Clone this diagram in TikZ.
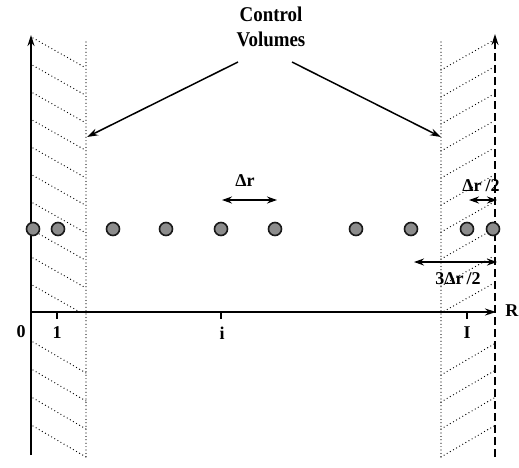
\documentclass[tikz,border=0pt]{standalone}
\usepackage{fontspec}
\setmainfont{Liberation Serif}
\usetikzlibrary{arrows.meta}
\begin{document}
\begin{tikzpicture}[x=1pt,y=-1pt,
  lbl/.style={font=\fontsize{18}{20}\selectfont\bfseries, inner sep=0pt},
  particle/.style={circle, minimum size=13pt, inner sep=0pt, fill=black!45, draw=black!90, line width=1.6pt},
  hatch/.style={line width=1.3pt, line cap=round, dash pattern=on 0pt off 3.6pt},
  bound/.style={line width=1.2pt, line cap=round, dash pattern=on 0pt off 3.4pt},
  tip/.style={-{Stealth[length=11pt,width=7pt]}},
  dtip/.style={{Stealth[length=10pt,width=7pt]}-{Stealth[length=10pt,width=7pt]}},
  axisline/.style={line width=1.6pt}]
\useasboundingbox (0,0) rectangle (519,467);
% boundary coordinates
\coordinate (Lb) at (31,455); \coordinate (Lt) at (31,35);
\coordinate (Rb) at (495,457); \coordinate (Rt) at (495,34);
\coordinate (O) at (31,312); \coordinate (Rend) at (496,312);
% hatching, left
\begin{scope}
\clip (31,36) rectangle (87,312);
\foreach \y in {38,65.5,...,300} \draw[hatch] (33,\y) -- (86,\y+30);
\end{scope}
\begin{scope}
\clip (31,312) rectangle (87,459);
\foreach \y in {342,370,398,426} \draw[hatch] (33,\y) -- (86,\y+31);
\end{scope}
% hatching, right
\begin{scope}
\clip (440,36) rectangle (495,312);
\foreach \y in {70,97,...,320} \draw[hatch] (441,\y) -- (494,\y-30);
\end{scope}
\begin{scope}
\clip (440,312) rectangle (495,459);
\foreach \y in {375,402,429,457} \draw[hatch] (441,\y) -- (494,\y-31);
\end{scope}
% dotted control volume boundaries
\coordinate (Dl) at (87,137); \coordinate (Dr) at (441,137);
\draw[bound] (86,42) -- (86,457);
\draw[bound] (441,42) -- (441,457);
% axes
\draw[axisline, tip] (Lb) -- (Lt);
\draw[line width=1.4pt, dash pattern=on 8pt off 4pt, tip] (Rb) -- (Rt);
\draw[axisline, tip] (O) -- (Rend);
% ticks
\foreach \x in {57,221,467} \draw[line width=1.2pt] (\x,312) -- (\x,319);
% axis labels
\node[lbl] (l0) at (21,332) {0};
\node[lbl] (l1) at (57,333) {1};
\node[lbl] (li) at (222,333) {i};
\node[lbl] (lI) at (467,333) {I};
\node[lbl, anchor=east] (lR) at (518.5,311) {R};
% particles
\foreach \x [count=\k] in {33,58,113,166,221,275,356,411,467,493}
  \node[particle] (c\k) at (\x,229) {};
% control volume label
\node[font=\fontsize{21}{25}\selectfont\bfseries, inner sep=0pt, align=center, xscale=0.9] (cv) at (271,27) {Control\\Volumes};
\coordinate (cvl) at (238,62); \coordinate (cvr) at (292,62);
\draw[line width=1.5pt, tip] (cvl) -- (Dl);
\draw[line width=1.5pt, tip] (cvr) -- (Dr);
% delta r
\coordinate (d1) at (222,200); \coordinate (d2) at (277,200);
\draw[line width=1.3pt, dtip] (d1) -- (d2);
\node[lbl] (dr) at (245,181) {Δr};
% delta r / 2
\coordinate (h1) at (469,200); \coordinate (h2) at (497,200);
\draw[line width=1.3pt, dtip] (h1) -- (h2);
\node[lbl] (drh) at (481,186) {Δr\hspace{4pt}/2};
% 3 delta r / 2
\coordinate (t1) at (414,262); \coordinate (t2) at (497,262);
\draw[line width=1.3pt, dtip] (t1) -- (t2);
\node[lbl] (drt) at (458,279) {3Δr\,/2};
\end{tikzpicture}
\end{document}
